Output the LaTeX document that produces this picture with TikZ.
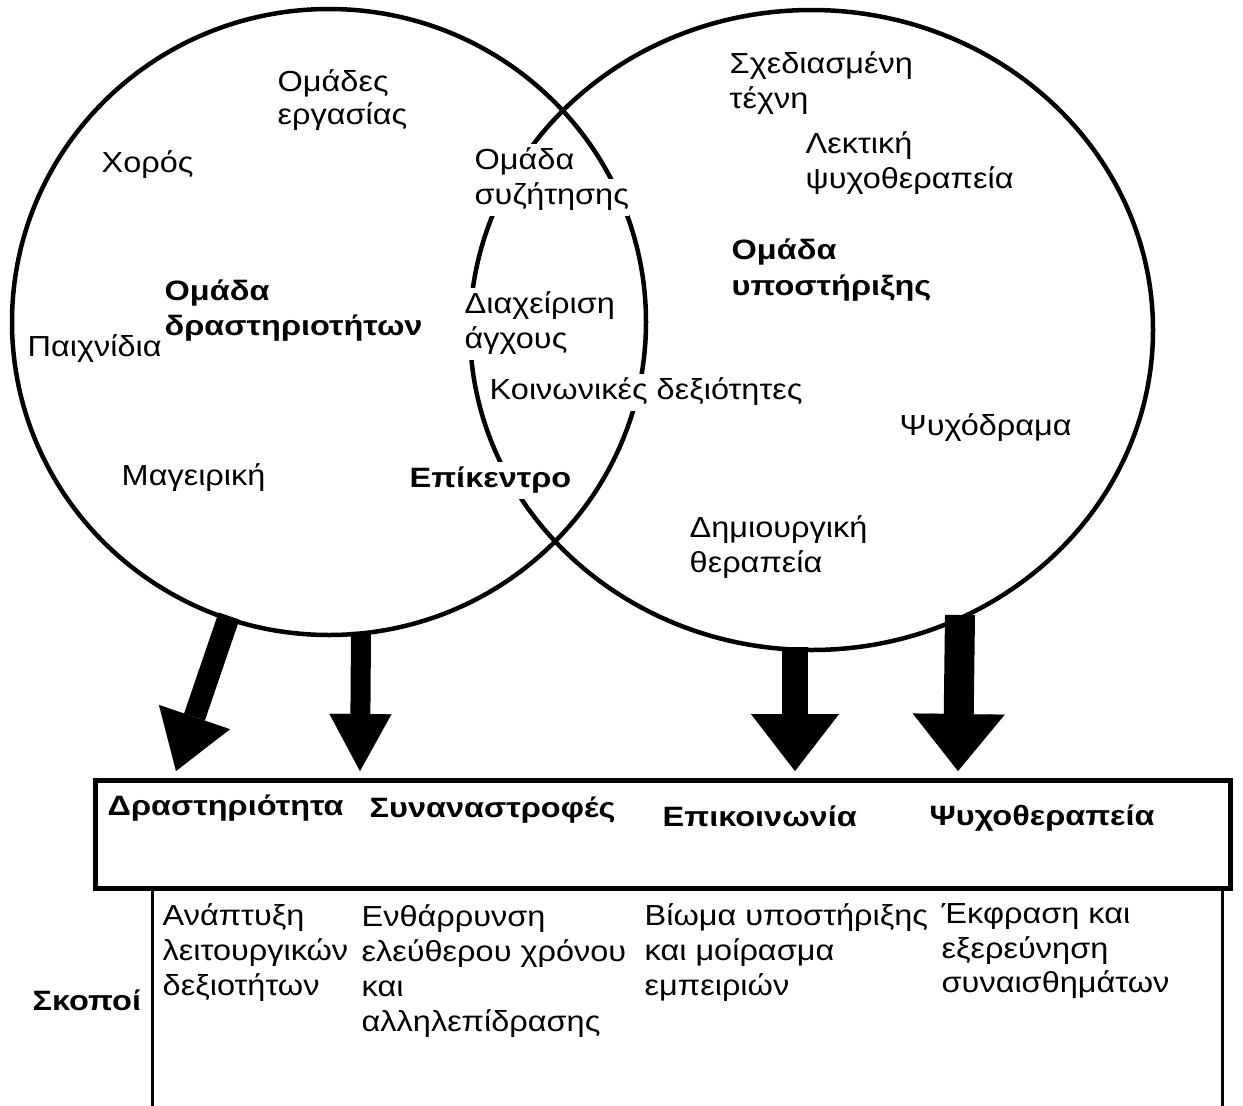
\documentclass[tikz,border=0pt]{standalone}
\usepackage{fontspec}
\setmainfont{Liberation Sans}
\newfontfamily\nrmfam[FakeStretch=1.12]{Liberation Sans}
\newfontfamily\bldfam[FakeStretch=1.16]{Liberation Sans}
\usetikzlibrary{shapes.geometric,arrows.meta}
\begin{document}
\begin{tikzpicture}[x=1pt,y=-1pt,
  ring/.style={ellipse,draw,line width=4.5pt,inner sep=0pt,outer sep=0pt},
  lbl/.style={anchor=west,align=left,fill=white,inner xsep=0.5pt,inner ysep=2pt,font=\nrmfam\fontsize{29}{35}\selectfont},
  blbl/.style={anchor=west,align=left,fill=white,inner xsep=0.5pt,inner ysep=2pt,font=\bldfam\bfseries\fontsize{28}{35}\selectfont},
  cut/.style={text height=23pt,text depth=8pt,inner ysep=3pt},
  barrow/.style 2 args={line width=#1,-{Triangle[length=57pt,width=#2,line width=0.1pt]}}
]
\useasboundingbox (0,0) rectangle (1243,1106);
\fill[white] (0,0) rectangle (1243,1106);

% circles
\node[ring,minimum width=634pt,minimum height=626pt] (lc) at (329,322) {};
\node[ring,minimum width=683pt,minimum height=640pt] (rc) at (811.5,330) {};

% left circle texts
\node[lbl] (t1a) at (277,83) {Ομάδες};
\node[lbl] (t1b) at (277,117) {εργασίας};
\node[lbl] (t2) at (101,165) {Χορός};
\node[blbl] (t3a) at (164,293) {Ομάδα};
\node[blbl] (t3b) at (164,328) {δραστηριοτήτων};
\node[lbl] (t4) at (27,349) {Παιχνίδια};
\node[lbl] (t5) at (121,478) {Μαγειρική};

% overlap texts
\node[lbl,cut] (t6a) at (474,162) {Ομάδα};
\node[lbl,cut] (t6b) at (474,197) {συζήτησης};
\node[lbl,cut] (t7a) at (464,306) {Διαχείριση};
\node[lbl,cut] (t7b) at (464,341) {άγχους};
\node[lbl,cut] (t8) at (489,392) {Κοινωνικές δεξιότητες};
\node[blbl,cut] (t9) at (409,480) {Επίκεντρο};

% right circle texts
\node[lbl] (r1a) at (729,66) {Σχεδιασμένη};
\node[lbl] (r1b) at (729,101) {τέχνη};
\node[lbl] (r2a) at (805,146) {Λεκτική};
\node[lbl] (r2b) at (805,181) {ψυχοθεραπεία};
\node[blbl] (r3a) at (731,252) {Ομάδα};
\node[blbl] (r3b) at (731,288) {υποστήριξης};
\node[lbl] (r4) at (899,428) {Ψυχόδραμα};
\node[lbl] (r5a) at (689,530) {Δημιουργική};
\node[lbl] (r5b) at (689,565) {θεραπεία};

% box
\node[draw,line width=5pt,minimum width=1135pt,minimum height=108pt,inner sep=0pt] (box) at (662.5,834) {};
\coordinate (bl) at (152,888);
\coordinate (blb) at (152,1106);
\coordinate (br) at (1222,888);
\coordinate (brb) at (1222,1106);
\draw[line width=3pt] (bl) -- (blb);
\draw[line width=3pt] (br) -- (brb);

\node[blbl] (h1) at (107,808) {Δραστηριότητα};
\node[blbl] (h2) at (369,810) {Συναναστροφές};
\node[blbl] (h3) at (662,816) {Επικοινωνία};
\node[blbl] (h4) at (929,818) {Ψυχοθεραπεία};

\node[blbl] (sk) at (32,1000) {Σκοποί};

\node[lbl] (g1) at (162,953) {Ανάπτυξη\\λειτουργικών\\δεξιοτήτων};
\node[lbl] (g2) at (361,971) {Ενθάρρυνση\\ελεύθερου χρόνου\\και\\αλληλεπίδρασης};
\node[lbl] (g3) at (644,953) {Βίωμα υποστήριξης\\και μοίρασμα\\εμπειριών};
\node[lbl] (g4) at (941,951) {Έκφραση και\\εξερεύνηση\\συναισθημάτων};

% arrows
\coordinate (a1s) at (229,616);
\coordinate (a1e) at (176,771);
\coordinate (a2s) at (361,632);
\coordinate (a2e) at (360,771);
\coordinate (a3s) at (795,647);
\coordinate (a3e) at (795,771);
\coordinate (a4s) at (960,615);
\coordinate (a4e) at (958,771);
\draw[barrow={22pt}{75pt}] (a1s) -- (a1e);
\draw[barrow={20pt}{62pt}] (a2s) -- (a2e);
\draw[barrow={26pt}{88pt}] (a3s) -- (a3e);
\draw[barrow={30pt}{92pt}] (a4s) -- (a4e);
\end{tikzpicture}
\end{document}
